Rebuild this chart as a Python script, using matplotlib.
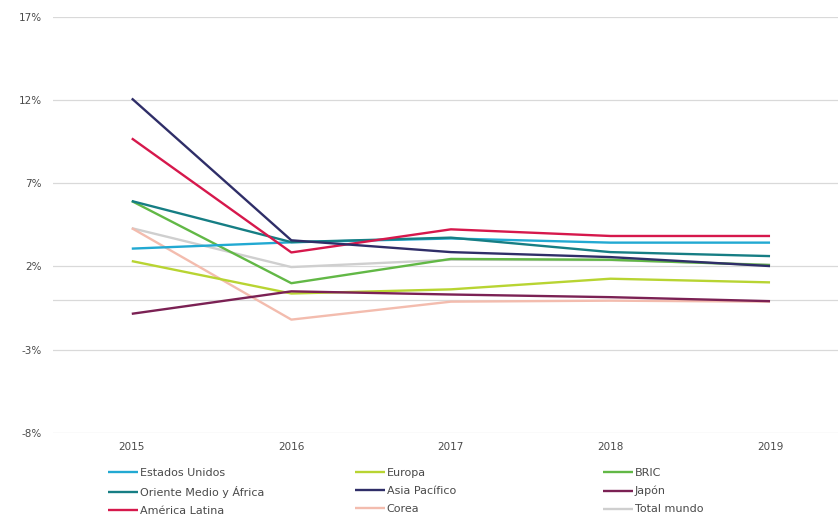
import numpy as np
import matplotlib.pyplot as plt

# annual growth by region, %
years = ['2015', '2016', '2017', '2018', '2019']

estados_unidos = [3.07, 3.45, 3.68, 3.43, 3.43]
europa = [2.32, 0.37, 0.62, 1.26, 1.04]
bric = [5.93, 0.99, 2.45, 2.40, 2.08]
oriente_medio = [5.93, 3.46, 3.73, 2.86, 2.62]
asia_pacifico = [12.1, 3.57, 2.86, 2.56, 2.02]
japon = [-0.85, 0.50, 0.31, 0.15, -0.09]
america_latina = [9.70, 2.84, 4.23, 3.83, 3.83]
corea = [4.30, -1.20, -0.12, -0.06, -0.12]
total_mundo = [4.30, 1.96, 2.40, 2.38, 2.10]

labels = ['Estados Unidos', 'Europa', 'BRIC',
          'Oriente Medio y África', 'Asia Pacífico', 'Japón',
          'América Latina', 'Corea', 'Total mundo']
series = [estados_unidos, europa, bric,
          oriente_medio, asia_pacifico, japon,
          america_latina, corea, total_mundo]
colors = ['#22a9d2', '#b8d432', '#62b846',
          '#167e84', '#2f2e68', '#7b2154',
          '#d6184c', '#f3bcae', '#cfcfcf']

yticks = [-8, -3, 2, 7, 12, 17]
txt = '#4a4a4a'

fig = plt.figure(figsize=(8.38, 5.17), dpi=100)
ax = fig.add_axes([0.063, 0.1631, 0.937, 0.8040])

x = np.arange(len(years))
# draw back to front so the dark lines sit on top
order = [8, 7, 1, 2, 5, 0, 3, 6, 4]
lines = {}
for i in order:
    lines[i], = ax.plot(x, series[i], color=colors[i], lw=1.7,
                        label=labels[i], solid_capstyle='butt', zorder=3)

ax.set_xlim(-0.495, 4.426)
ax.set_ylim(-8, 17)
ax.set_yticks(yticks)
ax.set_yticklabels([f'{v}%' for v in yticks])
ax.set_xticks(x)
ax.set_xticklabels(years)
ax.grid(axis='y', color='#d9d9d9', lw=0.9)
ax.axhline(0, color='#d9d9d9', lw=0.9, zorder=1)
ax.set_axisbelow(True)
for s in ax.spines.values():
    s.set_visible(False)
ax.tick_params(length=0, colors=txt)
ax.tick_params(axis='y', labelsize=7.5, pad=8)
ax.tick_params(axis='x', labelsize=7.5, pad=7)

# three legend columns, filled row by row
col_x = [108, 355, 603]
for c in range(3):
    idx = [c, c + 3, c + 6]
    leg = fig.legend([lines[i] for i in idx], [labels[i] for i in idx],
                     loc='upper left',
                     bbox_to_anchor=(col_x[c] / 838, 1 - 468 / 517),
                     frameon=False, fontsize=8, handlelength=2.7,
                     handletextpad=0.15, labelspacing=0.72, borderpad=0,
                     borderaxespad=0, labelcolor=txt)

fig.savefig('out.png', dpi=100)
